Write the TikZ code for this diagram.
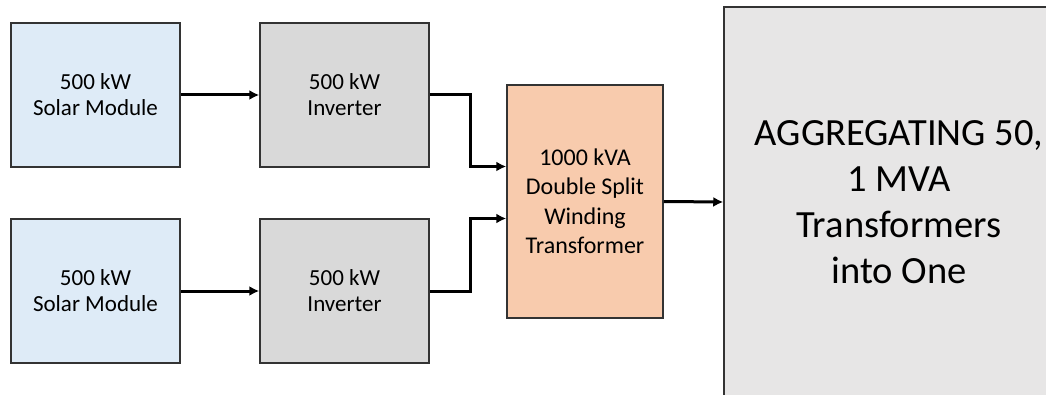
\documentclass[tikz,border=0pt]{standalone}
\usepackage{fontspec}
\setmainfont{Carlito}
\usetikzlibrary{arrows.meta}

\definecolor{solarblue}{HTML}{DEEBF7}
\definecolor{invgray}{HTML}{D9D9D9}
\definecolor{trafopeach}{HTML}{F8CBAD}
\definecolor{aggrgray}{HTML}{E7E6E6}
\definecolor{edgegray}{HTML}{333333}

\begin{document}
\begin{tikzpicture}[x=1pt,y=1pt,
    every node/.style={font=\fontsize{23}{26}\selectfont, align=center},
    blockbox/.style={draw=edgegray, line width=1.5pt, rectangle, inner sep=0pt},
    solarbox/.style={blockbox, fill=solarblue, minimum width=169pt, minimum height=144pt},
    invbox/.style={blockbox, fill=invgray, minimum width=169pt, minimum height=144pt},
    flow/.style={line width=3pt, -{Latex[length=10pt,width=10pt]}}]
    \useasboundingbox (0,0) rectangle (1046,-395);

    % big aggregation box, clipped at the page edge
    \begin{scope}
      \clip (0,0) rectangle (1046,-395);
      \node[blockbox, fill=aggrgray, minimum width=350pt, minimum height=390pt,
            font=\fontsize{38.5}{46}\selectfont] (aggr) at (899,-202)
        {AGGREGATING 50,\\1 MVA\\Transformers\\into One};
    \end{scope}

    \node[solarbox] (solar1) at (95.5,-95) {500 kW\\Solar Module};
    \node[invbox]   (inv1)   at (344.5,-95) {500 kW\\Inverter};
    \node[solarbox] (solar2) at (95.5,-291) {500 kW\\Solar Module};
    \node[invbox]   (inv2)   at (344.5,-291) {500 kW\\Inverter};

    \node[blockbox, fill=trafopeach, minimum width=156pt, minimum height=233pt,
          font=\fontsize{24}{29.5}\selectfont] (trafo) at (585,-201.5)
      {1000 kVA\\Double Split\\Winding\\Transformer};

    \draw[flow] (solar1) -- (inv1);
    \draw[flow] (solar2) -- (inv2);
    \draw[flow] (inv1.east) -- ++(41,0) |- ([yshift=35pt]trafo.west);
    \draw[flow] (inv2.east) -- ++(41,0) |- ([yshift=-17pt]trafo.west);
    \draw[flow] (trafo.east) -- (aggr.west);
\end{tikzpicture}
\end{document}
